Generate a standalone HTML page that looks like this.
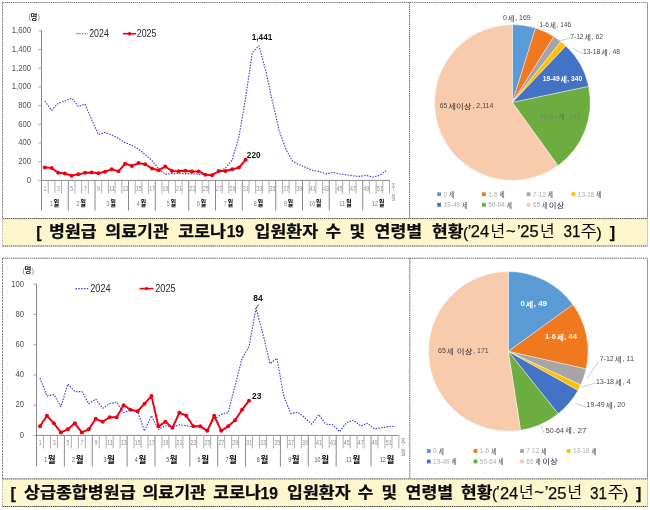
<!DOCTYPE html>
<html lang="ko"><head><meta charset="utf-8"><title>COVID-19 hospitalisations</title>
<style>html,body{margin:0;padding:0;background:#fff;}body{width:650px;height:510px;overflow:hidden;font-family:"Liberation Sans","Noto Sans CJK KR",sans-serif;}svg{display:block;will-change:transform;filter:blur(0.4px);}text{font-family:"Liberation Sans","Noto Sans CJK KR",sans-serif;}</style></head><body>
<svg width="650" height="510" viewBox="0 0 650 510" role="img" aria-label="COVID-19 inpatients by week (2024 vs 2025) and by age group, hospital-level and tertiary hospitals">
<desc>[ 병원급 의료기관 코로나19 입원환자 수 및 연령별 현황('24년~'25년 31주) ] / [ 상급종합병원급 의료기관 코로나19 입원환자 수 및 연령별 현황('24년~'25년 31주) ]</desc>
<line x1="2.50" y1="2.50" x2="647.50" y2="2.50" stroke="#808080" stroke-width="1" stroke-dasharray="1.4 0.7" />
<line x1="2.50" y1="2.50" x2="2.50" y2="246.00" stroke="#7c7c7c" stroke-width="1" stroke-dasharray="2 1" />
<line x1="647.50" y1="2.50" x2="647.50" y2="246.00" stroke="#9a9a9a" stroke-width="1" />
<line x1="409.60" y1="2.50" x2="409.60" y2="218.60" stroke="#505050" stroke-width="0.9" stroke-dasharray="1.4 0.7" />
<line x1="41.50" y1="30.40" x2="41.50" y2="180.90" stroke="#8a8a8a" stroke-width="1" />
<line x1="38.50" y1="180.40" x2="41.50" y2="180.40" stroke="#9a9a9a" stroke-width="0.9" />
<text x="26.64" y="182.70" font-size="8.6" fill="#505050" text-anchor="start" font-weight="normal" textLength="4.26" lengthAdjust="spacingAndGlyphs" >0</text>
<line x1="38.50" y1="161.71" x2="41.50" y2="161.71" stroke="#9a9a9a" stroke-width="0.9" />
<text x="18.13" y="164.01" font-size="8.6" fill="#505050" text-anchor="start" font-weight="normal" textLength="12.77" lengthAdjust="spacingAndGlyphs" >200</text>
<line x1="38.50" y1="143.03" x2="41.50" y2="143.03" stroke="#9a9a9a" stroke-width="0.9" />
<text x="18.13" y="145.32" font-size="8.6" fill="#505050" text-anchor="start" font-weight="normal" textLength="12.77" lengthAdjust="spacingAndGlyphs" >400</text>
<line x1="38.50" y1="124.34" x2="41.50" y2="124.34" stroke="#9a9a9a" stroke-width="0.9" />
<text x="18.13" y="126.63" font-size="8.6" fill="#505050" text-anchor="start" font-weight="normal" textLength="12.77" lengthAdjust="spacingAndGlyphs" >600</text>
<line x1="38.50" y1="105.65" x2="41.50" y2="105.65" stroke="#9a9a9a" stroke-width="0.9" />
<text x="18.13" y="107.95" font-size="8.6" fill="#505050" text-anchor="start" font-weight="normal" textLength="12.77" lengthAdjust="spacingAndGlyphs" >800</text>
<line x1="38.50" y1="86.96" x2="41.50" y2="86.96" stroke="#9a9a9a" stroke-width="0.9" />
<text x="11.75" y="89.26" font-size="8.6" fill="#505050" text-anchor="start" font-weight="normal" textLength="19.15" lengthAdjust="spacingAndGlyphs" >1,000</text>
<line x1="38.50" y1="68.28" x2="41.50" y2="68.28" stroke="#9a9a9a" stroke-width="0.9" />
<text x="11.75" y="70.57" font-size="8.6" fill="#505050" text-anchor="start" font-weight="normal" textLength="19.15" lengthAdjust="spacingAndGlyphs" >1,200</text>
<line x1="38.50" y1="49.59" x2="41.50" y2="49.59" stroke="#9a9a9a" stroke-width="0.9" />
<text x="11.75" y="51.88" font-size="8.6" fill="#505050" text-anchor="start" font-weight="normal" textLength="19.15" lengthAdjust="spacingAndGlyphs" >1,400</text>
<line x1="38.50" y1="30.90" x2="41.50" y2="30.90" stroke="#9a9a9a" stroke-width="0.9" />
<text x="11.75" y="33.20" font-size="8.6" fill="#505050" text-anchor="start" font-weight="normal" textLength="19.15" lengthAdjust="spacingAndGlyphs" >1,600</text>
<line x1="41.50" y1="180.40" x2="389.50" y2="180.40" stroke="#8a8a8a" stroke-width="1" />
<line x1="41.50" y1="180.40" x2="41.50" y2="210.60" stroke="#8a8a8a" stroke-width="1" />
<line x1="48.19" y1="180.40" x2="48.19" y2="193.60" stroke="#9a9a9a" stroke-width="0.8" />
<line x1="54.88" y1="180.40" x2="54.88" y2="193.60" stroke="#9a9a9a" stroke-width="0.8" />
<line x1="61.58" y1="180.40" x2="61.58" y2="193.60" stroke="#9a9a9a" stroke-width="0.8" />
<line x1="68.27" y1="180.40" x2="68.27" y2="210.60" stroke="#8a8a8a" stroke-width="1" />
<line x1="74.96" y1="180.40" x2="74.96" y2="193.60" stroke="#9a9a9a" stroke-width="0.8" />
<line x1="81.65" y1="180.40" x2="81.65" y2="193.60" stroke="#9a9a9a" stroke-width="0.8" />
<line x1="88.35" y1="180.40" x2="88.35" y2="193.60" stroke="#9a9a9a" stroke-width="0.8" />
<line x1="95.04" y1="180.40" x2="95.04" y2="210.60" stroke="#8a8a8a" stroke-width="1" />
<line x1="101.73" y1="180.40" x2="101.73" y2="193.60" stroke="#9a9a9a" stroke-width="0.8" />
<line x1="108.42" y1="180.40" x2="108.42" y2="193.60" stroke="#9a9a9a" stroke-width="0.8" />
<line x1="115.12" y1="180.40" x2="115.12" y2="193.60" stroke="#9a9a9a" stroke-width="0.8" />
<line x1="121.81" y1="180.40" x2="121.81" y2="193.60" stroke="#9a9a9a" stroke-width="0.8" />
<line x1="128.50" y1="180.40" x2="128.50" y2="210.60" stroke="#8a8a8a" stroke-width="1" />
<line x1="135.19" y1="180.40" x2="135.19" y2="193.60" stroke="#9a9a9a" stroke-width="0.8" />
<line x1="141.88" y1="180.40" x2="141.88" y2="193.60" stroke="#9a9a9a" stroke-width="0.8" />
<line x1="148.58" y1="180.40" x2="148.58" y2="193.60" stroke="#9a9a9a" stroke-width="0.8" />
<line x1="155.27" y1="180.40" x2="155.27" y2="210.60" stroke="#8a8a8a" stroke-width="1" />
<line x1="161.96" y1="180.40" x2="161.96" y2="193.60" stroke="#9a9a9a" stroke-width="0.8" />
<line x1="168.65" y1="180.40" x2="168.65" y2="193.60" stroke="#9a9a9a" stroke-width="0.8" />
<line x1="175.35" y1="180.40" x2="175.35" y2="193.60" stroke="#9a9a9a" stroke-width="0.8" />
<line x1="182.04" y1="180.40" x2="182.04" y2="193.60" stroke="#9a9a9a" stroke-width="0.8" />
<line x1="188.73" y1="180.40" x2="188.73" y2="210.60" stroke="#8a8a8a" stroke-width="1" />
<line x1="195.42" y1="180.40" x2="195.42" y2="193.60" stroke="#9a9a9a" stroke-width="0.8" />
<line x1="202.12" y1="180.40" x2="202.12" y2="193.60" stroke="#9a9a9a" stroke-width="0.8" />
<line x1="208.81" y1="180.40" x2="208.81" y2="193.60" stroke="#9a9a9a" stroke-width="0.8" />
<line x1="215.50" y1="180.40" x2="215.50" y2="210.60" stroke="#8a8a8a" stroke-width="1" />
<line x1="222.19" y1="180.40" x2="222.19" y2="193.60" stroke="#9a9a9a" stroke-width="0.8" />
<line x1="228.88" y1="180.40" x2="228.88" y2="193.60" stroke="#9a9a9a" stroke-width="0.8" />
<line x1="235.58" y1="180.40" x2="235.58" y2="193.60" stroke="#9a9a9a" stroke-width="0.8" />
<line x1="242.27" y1="180.40" x2="242.27" y2="210.60" stroke="#8a8a8a" stroke-width="1" />
<line x1="248.96" y1="180.40" x2="248.96" y2="193.60" stroke="#9a9a9a" stroke-width="0.8" />
<line x1="255.65" y1="180.40" x2="255.65" y2="193.60" stroke="#9a9a9a" stroke-width="0.8" />
<line x1="262.35" y1="180.40" x2="262.35" y2="193.60" stroke="#9a9a9a" stroke-width="0.8" />
<line x1="269.04" y1="180.40" x2="269.04" y2="193.60" stroke="#9a9a9a" stroke-width="0.8" />
<line x1="275.73" y1="180.40" x2="275.73" y2="210.60" stroke="#8a8a8a" stroke-width="1" />
<line x1="282.42" y1="180.40" x2="282.42" y2="193.60" stroke="#9a9a9a" stroke-width="0.8" />
<line x1="289.12" y1="180.40" x2="289.12" y2="193.60" stroke="#9a9a9a" stroke-width="0.8" />
<line x1="295.81" y1="180.40" x2="295.81" y2="193.60" stroke="#9a9a9a" stroke-width="0.8" />
<line x1="302.50" y1="180.40" x2="302.50" y2="210.60" stroke="#8a8a8a" stroke-width="1" />
<line x1="309.19" y1="180.40" x2="309.19" y2="193.60" stroke="#9a9a9a" stroke-width="0.8" />
<line x1="315.88" y1="180.40" x2="315.88" y2="193.60" stroke="#9a9a9a" stroke-width="0.8" />
<line x1="322.58" y1="180.40" x2="322.58" y2="193.60" stroke="#9a9a9a" stroke-width="0.8" />
<line x1="329.27" y1="180.40" x2="329.27" y2="210.60" stroke="#8a8a8a" stroke-width="1" />
<line x1="335.96" y1="180.40" x2="335.96" y2="193.60" stroke="#9a9a9a" stroke-width="0.8" />
<line x1="342.65" y1="180.40" x2="342.65" y2="193.60" stroke="#9a9a9a" stroke-width="0.8" />
<line x1="349.35" y1="180.40" x2="349.35" y2="193.60" stroke="#9a9a9a" stroke-width="0.8" />
<line x1="356.04" y1="180.40" x2="356.04" y2="193.60" stroke="#9a9a9a" stroke-width="0.8" />
<line x1="362.73" y1="180.40" x2="362.73" y2="210.60" stroke="#8a8a8a" stroke-width="1" />
<line x1="369.42" y1="180.40" x2="369.42" y2="193.60" stroke="#9a9a9a" stroke-width="0.8" />
<line x1="376.12" y1="180.40" x2="376.12" y2="193.60" stroke="#9a9a9a" stroke-width="0.8" />
<line x1="382.81" y1="180.40" x2="382.81" y2="193.60" stroke="#9a9a9a" stroke-width="0.8" />
<line x1="389.50" y1="180.40" x2="389.50" y2="193.60" stroke="#9a9a9a" stroke-width="0.8" />
<text x="45.05" y="190.60" font-size="7.4" fill="#8e8e8e" text-anchor="middle" font-weight="normal" textLength="2.96" lengthAdjust="spacingAndGlyphs" >1</text>
<text x="58.43" y="190.60" font-size="7.4" fill="#8e8e8e" text-anchor="middle" font-weight="normal" textLength="2.96" lengthAdjust="spacingAndGlyphs" >3</text>
<text x="71.82" y="190.60" font-size="7.4" fill="#8e8e8e" text-anchor="middle" font-weight="normal" textLength="2.96" lengthAdjust="spacingAndGlyphs" >5</text>
<text x="85.20" y="190.60" font-size="7.4" fill="#8e8e8e" text-anchor="middle" font-weight="normal" textLength="2.96" lengthAdjust="spacingAndGlyphs" >7</text>
<text x="98.58" y="190.60" font-size="7.4" fill="#8e8e8e" text-anchor="middle" font-weight="normal" textLength="2.96" lengthAdjust="spacingAndGlyphs" >9</text>
<text x="111.97" y="190.60" font-size="7.4" fill="#8e8e8e" text-anchor="middle" font-weight="normal" textLength="5.93" lengthAdjust="spacingAndGlyphs" >11</text>
<text x="125.35" y="190.60" font-size="7.4" fill="#8e8e8e" text-anchor="middle" font-weight="normal" textLength="5.93" lengthAdjust="spacingAndGlyphs" >13</text>
<text x="138.74" y="190.60" font-size="7.4" fill="#8e8e8e" text-anchor="middle" font-weight="normal" textLength="5.93" lengthAdjust="spacingAndGlyphs" >15</text>
<text x="152.12" y="190.60" font-size="7.4" fill="#8e8e8e" text-anchor="middle" font-weight="normal" textLength="5.93" lengthAdjust="spacingAndGlyphs" >17</text>
<text x="165.51" y="190.60" font-size="7.4" fill="#8e8e8e" text-anchor="middle" font-weight="normal" textLength="5.93" lengthAdjust="spacingAndGlyphs" >19</text>
<text x="178.89" y="190.60" font-size="7.4" fill="#8e8e8e" text-anchor="middle" font-weight="normal" textLength="5.93" lengthAdjust="spacingAndGlyphs" >21</text>
<text x="192.28" y="190.60" font-size="7.4" fill="#8e8e8e" text-anchor="middle" font-weight="normal" textLength="5.93" lengthAdjust="spacingAndGlyphs" >23</text>
<text x="205.66" y="190.60" font-size="7.4" fill="#8e8e8e" text-anchor="middle" font-weight="normal" textLength="5.93" lengthAdjust="spacingAndGlyphs" >25</text>
<text x="219.05" y="190.60" font-size="7.4" fill="#8e8e8e" text-anchor="middle" font-weight="normal" textLength="5.93" lengthAdjust="spacingAndGlyphs" >27</text>
<text x="232.43" y="190.60" font-size="7.4" fill="#8e8e8e" text-anchor="middle" font-weight="normal" textLength="5.93" lengthAdjust="spacingAndGlyphs" >29</text>
<text x="245.82" y="190.60" font-size="7.4" fill="#8e8e8e" text-anchor="middle" font-weight="normal" textLength="5.93" lengthAdjust="spacingAndGlyphs" >31</text>
<text x="259.20" y="190.60" font-size="7.4" fill="#8e8e8e" text-anchor="middle" font-weight="normal" textLength="5.93" lengthAdjust="spacingAndGlyphs" >33</text>
<text x="272.58" y="190.60" font-size="7.4" fill="#8e8e8e" text-anchor="middle" font-weight="normal" textLength="5.93" lengthAdjust="spacingAndGlyphs" >35</text>
<text x="285.97" y="190.60" font-size="7.4" fill="#8e8e8e" text-anchor="middle" font-weight="normal" textLength="5.93" lengthAdjust="spacingAndGlyphs" >37</text>
<text x="299.35" y="190.60" font-size="7.4" fill="#8e8e8e" text-anchor="middle" font-weight="normal" textLength="5.93" lengthAdjust="spacingAndGlyphs" >39</text>
<text x="312.74" y="190.60" font-size="7.4" fill="#8e8e8e" text-anchor="middle" font-weight="normal" textLength="5.93" lengthAdjust="spacingAndGlyphs" >41</text>
<text x="326.12" y="190.60" font-size="7.4" fill="#8e8e8e" text-anchor="middle" font-weight="normal" textLength="5.93" lengthAdjust="spacingAndGlyphs" >43</text>
<text x="339.51" y="190.60" font-size="7.4" fill="#8e8e8e" text-anchor="middle" font-weight="normal" textLength="5.93" lengthAdjust="spacingAndGlyphs" >45</text>
<text x="352.89" y="190.60" font-size="7.4" fill="#8e8e8e" text-anchor="middle" font-weight="normal" textLength="5.93" lengthAdjust="spacingAndGlyphs" >47</text>
<text x="366.28" y="190.60" font-size="7.4" fill="#8e8e8e" text-anchor="middle" font-weight="normal" textLength="5.93" lengthAdjust="spacingAndGlyphs" >49</text>
<text x="379.66" y="190.60" font-size="7.4" fill="#8e8e8e" text-anchor="middle" font-weight="normal" textLength="5.93" lengthAdjust="spacingAndGlyphs" >51</text>
<text x="49.67" y="205.60" font-size="7.8" fill="#777" text-anchor="start" font-weight="normal" textLength="2.95" lengthAdjust="spacingAndGlyphs" >1</text>
<text x="53.38" y="206.30" font-size="8" fill="#000" text-anchor="start" font-weight="bold" textLength="5.6" lengthAdjust="spacingAndGlyphs">월</text>
<text x="76.44" y="205.60" font-size="7.8" fill="#777" text-anchor="start" font-weight="normal" textLength="2.95" lengthAdjust="spacingAndGlyphs" >2</text>
<text x="80.15" y="206.30" font-size="8" fill="#000" text-anchor="start" font-weight="bold" textLength="5.6" lengthAdjust="spacingAndGlyphs">월</text>
<text x="106.55" y="205.60" font-size="7.8" fill="#777" text-anchor="start" font-weight="normal" textLength="2.95" lengthAdjust="spacingAndGlyphs" >3</text>
<text x="110.26" y="206.30" font-size="8" fill="#000" text-anchor="start" font-weight="bold" textLength="5.6" lengthAdjust="spacingAndGlyphs">월</text>
<text x="136.67" y="205.60" font-size="7.8" fill="#777" text-anchor="start" font-weight="normal" textLength="2.95" lengthAdjust="spacingAndGlyphs" >4</text>
<text x="140.38" y="206.30" font-size="8" fill="#000" text-anchor="start" font-weight="bold" textLength="5.6" lengthAdjust="spacingAndGlyphs">월</text>
<text x="166.78" y="205.60" font-size="7.8" fill="#777" text-anchor="start" font-weight="normal" textLength="2.95" lengthAdjust="spacingAndGlyphs" >5</text>
<text x="170.49" y="206.30" font-size="8" fill="#000" text-anchor="start" font-weight="bold" textLength="5.6" lengthAdjust="spacingAndGlyphs">월</text>
<text x="196.90" y="205.60" font-size="7.8" fill="#777" text-anchor="start" font-weight="normal" textLength="2.95" lengthAdjust="spacingAndGlyphs" >6</text>
<text x="200.61" y="206.30" font-size="8" fill="#000" text-anchor="start" font-weight="bold" textLength="5.6" lengthAdjust="spacingAndGlyphs">월</text>
<text x="223.67" y="205.60" font-size="7.8" fill="#777" text-anchor="start" font-weight="normal" textLength="2.95" lengthAdjust="spacingAndGlyphs" >7</text>
<text x="227.38" y="206.30" font-size="8" fill="#000" text-anchor="start" font-weight="bold" textLength="5.6" lengthAdjust="spacingAndGlyphs">월</text>
<text x="253.78" y="205.60" font-size="7.8" fill="#777" text-anchor="start" font-weight="normal" textLength="2.95" lengthAdjust="spacingAndGlyphs" >8</text>
<text x="257.49" y="206.30" font-size="8" fill="#000" text-anchor="start" font-weight="bold" textLength="5.6" lengthAdjust="spacingAndGlyphs">월</text>
<text x="283.90" y="205.60" font-size="7.8" fill="#777" text-anchor="start" font-weight="normal" textLength="2.95" lengthAdjust="spacingAndGlyphs" >9</text>
<text x="287.61" y="206.30" font-size="8" fill="#000" text-anchor="start" font-weight="bold" textLength="5.6" lengthAdjust="spacingAndGlyphs">월</text>
<text x="309.19" y="205.60" font-size="7.8" fill="#777" text-anchor="start" font-weight="normal" textLength="5.90" lengthAdjust="spacingAndGlyphs" >10</text>
<text x="315.85" y="206.30" font-size="8" fill="#000" text-anchor="start" font-weight="bold" textLength="5.6" lengthAdjust="spacingAndGlyphs">월</text>
<text x="339.31" y="205.60" font-size="7.8" fill="#777" text-anchor="start" font-weight="normal" textLength="5.90" lengthAdjust="spacingAndGlyphs" >11</text>
<text x="345.97" y="206.30" font-size="8" fill="#000" text-anchor="start" font-weight="bold" textLength="5.6" lengthAdjust="spacingAndGlyphs">월</text>
<text x="372.02" y="205.60" font-size="7.8" fill="#777" text-anchor="start" font-weight="normal" textLength="5.90" lengthAdjust="spacingAndGlyphs" >12</text>
<text x="378.68" y="206.30" font-size="8" fill="#000" text-anchor="start" font-weight="bold" textLength="5.6" lengthAdjust="spacingAndGlyphs">월</text>
<text x="391.30" y="189.70" font-size="7.5" fill="#8a8a8a" text-anchor="start" font-weight="normal" textLength="4" lengthAdjust="spacingAndGlyphs">주</text>
<text x="391.42" y="200.20" font-size="6.8" fill="#8a8a8a" text-anchor="start" font-weight="normal" textLength="4" lengthAdjust="spacingAndGlyphs">월</text>
<polyline points="44.85,101.07 51.54,110.32 58.23,103.22 64.92,101.07 71.62,98.17 78.31,106.40 85.00,104.16 91.69,119.67 98.38,134.62 105.08,132.37 111.77,134.99 118.46,138.35 125.15,142.65 131.85,145.45 138.54,149.19 145.23,154.52 151.92,160.50 158.62,168.53 165.31,174.33 172.00,173.67 178.69,173.49 185.38,173.67 192.08,173.67 198.77,174.51 205.46,174.51 212.15,174.33 218.85,171.43 225.54,168.07 232.23,159.84 238.92,136.76 245.62,97.89 252.31,52.58 259.00,45.76 265.69,70.42 272.38,101.17 279.08,130.22 285.77,149.10 292.46,161.06 299.15,164.80 305.85,167.41 312.54,170.40 319.23,171.43 325.92,173.86 332.62,172.46 339.31,173.86 346.00,174.79 352.69,175.82 359.38,176.38 366.08,175.45 372.77,177.04 379.46,175.45 386.15,170.78" fill="none" stroke="#3d42d4" stroke-width="1.15" stroke-dasharray="1.5 1.3" stroke-linejoin="round"/>
<polyline points="44.85,167.51 51.54,167.88 58.23,172.83 64.92,173.49 71.62,175.63 78.31,174.33 85.00,172.83 91.69,172.46 98.38,173.30 105.08,171.80 111.77,169.19 118.46,171.34 125.15,163.77 131.85,165.92 138.54,163.11 145.23,164.24 151.92,168.53 158.62,170.22 165.31,166.57 172.00,171.06 178.69,171.15 185.38,170.68 192.08,171.43 198.77,171.43 205.46,174.79 212.15,175.17 218.85,170.96 225.54,171.06 232.23,169.28 238.92,167.60 245.62,159.84" fill="none" stroke="#ee0010" stroke-width="1.95" stroke-linejoin="round" stroke-linecap="round"/>
<circle cx="44.85" cy="167.51" r="2.0" fill="#ee0010"/>
<circle cx="51.54" cy="167.88" r="2.0" fill="#ee0010"/>
<circle cx="58.23" cy="172.83" r="2.0" fill="#ee0010"/>
<circle cx="64.92" cy="173.49" r="2.0" fill="#ee0010"/>
<circle cx="71.62" cy="175.63" r="2.0" fill="#ee0010"/>
<circle cx="78.31" cy="174.33" r="2.0" fill="#ee0010"/>
<circle cx="85.00" cy="172.83" r="2.0" fill="#ee0010"/>
<circle cx="91.69" cy="172.46" r="2.0" fill="#ee0010"/>
<circle cx="98.38" cy="173.30" r="2.0" fill="#ee0010"/>
<circle cx="105.08" cy="171.80" r="2.0" fill="#ee0010"/>
<circle cx="111.77" cy="169.19" r="2.0" fill="#ee0010"/>
<circle cx="118.46" cy="171.34" r="2.0" fill="#ee0010"/>
<circle cx="125.15" cy="163.77" r="2.0" fill="#ee0010"/>
<circle cx="131.85" cy="165.92" r="2.0" fill="#ee0010"/>
<circle cx="138.54" cy="163.11" r="2.0" fill="#ee0010"/>
<circle cx="145.23" cy="164.24" r="2.0" fill="#ee0010"/>
<circle cx="151.92" cy="168.53" r="2.0" fill="#ee0010"/>
<circle cx="158.62" cy="170.22" r="2.0" fill="#ee0010"/>
<circle cx="165.31" cy="166.57" r="2.0" fill="#ee0010"/>
<circle cx="172.00" cy="171.06" r="2.0" fill="#ee0010"/>
<circle cx="178.69" cy="171.15" r="2.0" fill="#ee0010"/>
<circle cx="185.38" cy="170.68" r="2.0" fill="#ee0010"/>
<circle cx="192.08" cy="171.43" r="2.0" fill="#ee0010"/>
<circle cx="198.77" cy="171.43" r="2.0" fill="#ee0010"/>
<circle cx="205.46" cy="174.79" r="2.0" fill="#ee0010"/>
<circle cx="212.15" cy="175.17" r="2.0" fill="#ee0010"/>
<circle cx="218.85" cy="170.96" r="2.0" fill="#ee0010"/>
<circle cx="225.54" cy="171.06" r="2.0" fill="#ee0010"/>
<circle cx="232.23" cy="169.28" r="2.0" fill="#ee0010"/>
<circle cx="238.92" cy="167.60" r="2.0" fill="#ee0010"/>
<circle cx="245.62" cy="159.84" r="2.0" fill="#ee0010"/>
<line x1="76.30" y1="33.70" x2="88.00" y2="33.70" stroke="#3d42d4" stroke-width="1.15" stroke-dasharray="1.5 1.3" />
<text x="89.20" y="37.30" font-size="10.4" fill="#2a2a2a" text-anchor="start" font-weight="normal" textLength="19.60" lengthAdjust="spacingAndGlyphs" >2024</text>
<line x1="123.00" y1="33.70" x2="136.00" y2="33.70" stroke="#ee0010" stroke-width="1.6" />
<circle cx="129.50" cy="33.70" r="1.7" fill="#ee0010"/>
<text x="136.80" y="37.30" font-size="10.4" fill="#2a2a2a" text-anchor="start" font-weight="normal" textLength="19.60" lengthAdjust="spacingAndGlyphs" >2025</text>
<text x="28.60" y="19.30" font-size="7.5" fill="#777" text-anchor="start" font-weight="normal" >(</text>
<text x="30.62" y="19.60" font-size="7.5" fill="#222" text-anchor="start" font-weight="bold" textLength="6.9" lengthAdjust="spacingAndGlyphs">명</text>
<text x="37.50" y="19.30" font-size="7.5" fill="#777" text-anchor="start" font-weight="normal" >)</text>
<text x="251.70" y="40.40" font-size="9.4" fill="#111" text-anchor="start" font-weight="bold" textLength="20.60" lengthAdjust="spacingAndGlyphs" >1,441</text>
<text x="246.80" y="157.60" font-size="9.4" fill="#111" text-anchor="start" font-weight="bold" textLength="13.80" lengthAdjust="spacingAndGlyphs" >220</text>
<path d="M512.40 102.50 L512.40 24.60 A77.90 77.90 0 0 1 535.51 28.11 Z" fill="#5B9BD5" stroke="#fff" stroke-width="0.4" stroke-linejoin="round"/>
<path d="M512.40 102.50 L535.51 28.11 A77.90 77.90 0 0 1 553.87 36.55 Z" fill="#F0791F" stroke="#fff" stroke-width="0.4" stroke-linejoin="round"/>
<path d="M512.40 102.50 L553.87 36.55 A77.90 77.90 0 0 1 560.88 41.53 Z" fill="#A5A5A5" stroke="#fff" stroke-width="0.4" stroke-linejoin="round"/>
<path d="M512.40 102.50 L560.88 41.53 A77.90 77.90 0 0 1 565.92 45.89 Z" fill="#FFC000" stroke="#fff" stroke-width="0.4" stroke-linejoin="round"/>
<path d="M512.40 102.50 L565.92 45.89 A77.90 77.90 0 0 1 588.63 86.44 Z" fill="#4472C4" stroke="#fff" stroke-width="0.4" stroke-linejoin="round"/>
<path d="M512.40 102.50 L588.63 86.44 A77.90 77.90 0 0 1 558.01 165.65 Z" fill="#6DAD40" stroke="#fff" stroke-width="0.4" stroke-linejoin="round"/>
<path d="M512.40 102.50 L558.01 165.65 A77.90 77.90 0 1 1 512.40 24.60 Z" fill="#F8CBAD" stroke="#fff" stroke-width="0.4" stroke-linejoin="round"/>
<line x1="569.60" y1="38.00" x2="559.00" y2="41.20" stroke="#aeb6c6" stroke-width="0.7" />
<line x1="582.80" y1="53.60" x2="572.50" y2="48.20" stroke="#aeb6c6" stroke-width="0.7" />
<text x="503.00" y="19.85" font-size="6.8" fill="#4a4a4a" text-anchor="start" font-weight="normal" textLength="3.84" lengthAdjust="spacingAndGlyphs" >0</text>
<text x="507.76" y="20.55" font-size="7" fill="#2c2c2c" text-anchor="start" font-weight="normal" textLength="6.6" lengthAdjust="spacingAndGlyphs">세</text>
<text x="515.26" y="19.85" font-size="6.8" fill="#4a4a4a" text-anchor="start" font-weight="normal" textLength="15.34" lengthAdjust="spacingAndGlyphs" >, 169</text>
<text x="539.40" y="27.05" font-size="6.8" fill="#4a4a4a" text-anchor="start" font-weight="normal" textLength="9.40" lengthAdjust="spacingAndGlyphs" >1-6</text>
<text x="549.67" y="27.75" font-size="7" fill="#2c2c2c" text-anchor="start" font-weight="normal" textLength="6.2" lengthAdjust="spacingAndGlyphs">세</text>
<text x="556.74" y="27.05" font-size="6.8" fill="#4a4a4a" text-anchor="start" font-weight="normal" textLength="14.46" lengthAdjust="spacingAndGlyphs" >, 146</text>
<text x="570.20" y="39.05" font-size="6.8" fill="#4a4a4a" text-anchor="start" font-weight="normal" textLength="13.42" lengthAdjust="spacingAndGlyphs" >7-12</text>
<text x="584.53" y="39.75" font-size="7" fill="#2c2c2c" text-anchor="start" font-weight="normal" textLength="6.4" lengthAdjust="spacingAndGlyphs">세</text>
<text x="591.81" y="39.05" font-size="6.8" fill="#4a4a4a" text-anchor="start" font-weight="normal" textLength="11.19" lengthAdjust="spacingAndGlyphs" >, 62</text>
<text x="583.00" y="54.45" font-size="6.8" fill="#4a4a4a" text-anchor="start" font-weight="normal" textLength="17.38" lengthAdjust="spacingAndGlyphs" >13-18</text>
<text x="601.29" y="55.15" font-size="7" fill="#2c2c2c" text-anchor="start" font-weight="normal" textLength="6.5" lengthAdjust="spacingAndGlyphs">세</text>
<text x="608.67" y="54.45" font-size="6.8" fill="#4a4a4a" text-anchor="start" font-weight="normal" textLength="11.33" lengthAdjust="spacingAndGlyphs" >, 48</text>
<text x="542.70" y="81.25" font-size="6.8" fill="#fff" text-anchor="start" font-weight="bold" textLength="17.12" lengthAdjust="spacingAndGlyphs" >19-49</text>
<text x="560.55" y="81.95" font-size="7" fill="#fff" text-anchor="start" font-weight="bold" textLength="6.4" lengthAdjust="spacingAndGlyphs">세</text>
<text x="567.31" y="81.25" font-size="6.8" fill="#fff" text-anchor="start" font-weight="bold" textLength="14.89" lengthAdjust="spacingAndGlyphs" >, 340</text>
<text x="540.00" y="118.75" font-size="6.8" fill="#6c8f56" text-anchor="start" font-weight="normal" textLength="17.26" lengthAdjust="spacingAndGlyphs" >50-64</text>
<text x="558.16" y="119.45" font-size="7" fill="#55773f" text-anchor="start" font-weight="normal" textLength="6.5" lengthAdjust="spacingAndGlyphs">세</text>
<text x="565.49" y="118.75" font-size="6.8" fill="#6c8f56" text-anchor="start" font-weight="normal" textLength="15.01" lengthAdjust="spacingAndGlyphs" >, 647</text>
<text x="439.80" y="108.45" font-size="6.8" fill="#4a4a4a" text-anchor="start" font-weight="normal" textLength="7.60" lengthAdjust="spacingAndGlyphs" >65</text>
<text x="448.32" y="109.15" font-size="7" fill="#2c2c2c" text-anchor="start" font-weight="normal" textLength="23.2" lengthAdjust="spacingAndGlyphs">세이상</text>
<text x="472.41" y="108.45" font-size="6.8" fill="#4a4a4a" text-anchor="start" font-weight="normal" textLength="20.89" lengthAdjust="spacingAndGlyphs" >, 2,114</text>
<rect x="437.20" y="192.30" width="3.8" height="3.8" fill="#5B9BD5"/>
<text x="443.40" y="196.50" font-size="6.6" fill="#adadad" text-anchor="start" font-weight="normal" textLength="3.60" lengthAdjust="spacingAndGlyphs" >0</text>
<text x="448.97" y="197.10" font-size="7" fill="#1c1c3c" text-anchor="start" font-weight="normal" textLength="5.1" lengthAdjust="spacingAndGlyphs">세</text>
<rect x="482.00" y="192.30" width="3.8" height="3.8" fill="#F0791F"/>
<text x="488.20" y="196.50" font-size="6.6" fill="#adadad" text-anchor="start" font-weight="normal" textLength="9.35" lengthAdjust="spacingAndGlyphs" >1-6</text>
<text x="499.53" y="197.10" font-size="7" fill="#1c1c3c" text-anchor="start" font-weight="normal" textLength="5.1" lengthAdjust="spacingAndGlyphs">세</text>
<rect x="526.70" y="192.30" width="3.8" height="3.8" fill="#A5A5A5"/>
<text x="532.90" y="196.50" font-size="6.6" fill="#adadad" text-anchor="start" font-weight="normal" textLength="12.95" lengthAdjust="spacingAndGlyphs" >7-12</text>
<text x="547.82" y="197.10" font-size="7" fill="#1c1c3c" text-anchor="start" font-weight="normal" textLength="5.1" lengthAdjust="spacingAndGlyphs">세</text>
<rect x="571.60" y="192.30" width="3.8" height="3.8" fill="#FFC000"/>
<text x="577.80" y="196.50" font-size="6.6" fill="#adadad" text-anchor="start" font-weight="normal" textLength="16.54" lengthAdjust="spacingAndGlyphs" >13-18</text>
<text x="596.32" y="197.10" font-size="7" fill="#1c1c3c" text-anchor="start" font-weight="normal" textLength="5.1" lengthAdjust="spacingAndGlyphs">세</text>
<rect x="437.20" y="202.90" width="3.8" height="3.8" fill="#4472C4"/>
<text x="443.40" y="207.10" font-size="6.6" fill="#adadad" text-anchor="start" font-weight="normal" textLength="16.54" lengthAdjust="spacingAndGlyphs" >19-49</text>
<text x="461.92" y="207.70" font-size="7" fill="#1c1c3c" text-anchor="start" font-weight="normal" textLength="5.1" lengthAdjust="spacingAndGlyphs">세</text>
<rect x="482.00" y="202.90" width="3.8" height="3.8" fill="#6DAD40"/>
<text x="488.20" y="207.10" font-size="6.6" fill="#adadad" text-anchor="start" font-weight="normal" textLength="16.54" lengthAdjust="spacingAndGlyphs" >50-64</text>
<text x="506.72" y="207.70" font-size="7" fill="#1c1c3c" text-anchor="start" font-weight="normal" textLength="5.1" lengthAdjust="spacingAndGlyphs">세</text>
<rect x="526.70" y="202.90" width="3.8" height="3.8" fill="#F8CBAD"/>
<text x="532.90" y="207.10" font-size="6.6" fill="#adadad" text-anchor="start" font-weight="normal" textLength="7.19" lengthAdjust="spacingAndGlyphs" >65</text>
<text x="542.07" y="207.70" font-size="7" fill="#1c1c3c" text-anchor="start" font-weight="normal" textLength="5.1" lengthAdjust="spacingAndGlyphs">세</text>
<text x="548.84" y="207.70" font-size="7.4" fill="#2a2a4a" text-anchor="start" font-weight="normal" textLength="15.6" lengthAdjust="spacingAndGlyphs">이상</text>
<rect x="2.50" y="218.60" width="645.00" height="27.40" fill="#FEF7CE"/>
<line x1="2.50" y1="218.60" x2="647.50" y2="218.60" stroke="#4a4a4a" stroke-width="1" stroke-dasharray="1.5 0.6" />
<line x1="2.50" y1="246.00" x2="647.50" y2="246.00" stroke="#4a4a4a" stroke-width="1" stroke-dasharray="1.5 0.6" />
<text x="49.05" y="236.50" font-size="15.5" fill="#0a0a0a" text-anchor="start" font-weight="bold" textLength="47.5" lengthAdjust="spacingAndGlyphs" stroke="#0a0a0a" stroke-width="0.25">병원급</text>
<text x="105.29" y="236.50" font-size="15.5" fill="#0a0a0a" text-anchor="start" font-weight="bold" textLength="63.5" lengthAdjust="spacingAndGlyphs" stroke="#0a0a0a" stroke-width="0.25">의료기관</text>
<text x="178.37" y="236.50" font-size="15.5" fill="#0a0a0a" text-anchor="start" font-weight="bold" textLength="47.5" lengthAdjust="spacingAndGlyphs" stroke="#0a0a0a" stroke-width="0.25">코로나</text>
<text x="254.54" y="236.50" font-size="15.5" fill="#0a0a0a" text-anchor="start" font-weight="bold" textLength="63.5" lengthAdjust="spacingAndGlyphs" stroke="#0a0a0a" stroke-width="0.25">입원환자</text>
<text x="325.45" y="236.50" font-size="15.5" fill="#0a0a0a" text-anchor="start" font-weight="bold" textLength="15.5" lengthAdjust="spacingAndGlyphs" stroke="#0a0a0a" stroke-width="0.25">수</text>
<text x="349.61" y="236.50" font-size="15.5" fill="#0a0a0a" text-anchor="start" font-weight="bold" textLength="15.5" lengthAdjust="spacingAndGlyphs" stroke="#0a0a0a" stroke-width="0.25">및</text>
<text x="374.58" y="236.50" font-size="15.5" fill="#0a0a0a" text-anchor="start" font-weight="bold" textLength="47.5" lengthAdjust="spacingAndGlyphs" stroke="#0a0a0a" stroke-width="0.25">연령별</text>
<text x="432.02" y="236.50" font-size="15.5" fill="#0a0a0a" text-anchor="start" font-weight="bold" textLength="31.5" lengthAdjust="spacingAndGlyphs" stroke="#0a0a0a" stroke-width="0.25">현황</text>
<text x="490.52" y="236.65" font-size="15.5" fill="#0a0a0a" text-anchor="start" font-weight="normal" textLength="14.6" lengthAdjust="spacingAndGlyphs">년</text>
<text x="539.92" y="236.65" font-size="15.5" fill="#0a0a0a" text-anchor="start" font-weight="normal" textLength="14.6" lengthAdjust="spacingAndGlyphs">년</text>
<text x="580.41" y="236.65" font-size="15.5" fill="#0a0a0a" text-anchor="start" font-weight="normal" textLength="16.4" lengthAdjust="spacingAndGlyphs">주</text>
<text x="36.20" y="238.00" font-size="16" fill="#0a0a0a" text-anchor="start" font-weight="bold" stroke="#0a0a0a" stroke-width="0.25">[</text>
<text x="226.70" y="237.40" font-size="15.6" fill="#0a0a0a" text-anchor="start" font-weight="bold" stroke="#0a0a0a" stroke-width="0.25">19</text>
<text x="463.10" y="237.50" font-size="15.5" fill="#0a0a0a" text-anchor="start" font-weight="normal" stroke="#0a0a0a" stroke-width="0.25">(</text>
<text x="467.80" y="236.50" font-size="16.5" fill="#0a0a0a" text-anchor="start" font-weight="normal" stroke="#0a0a0a" stroke-width="0.25">’</text>
<text x="470.80" y="237.40" font-size="16.5" fill="#0a0a0a" text-anchor="start" font-weight="normal" stroke="#0a0a0a" stroke-width="0.25">24</text>
<text x="506.00" y="236.50" font-size="16.5" fill="#0a0a0a" text-anchor="start" font-weight="normal" stroke="#0a0a0a" stroke-width="0.25">~</text>
<text x="517.10" y="236.50" font-size="16.5" fill="#0a0a0a" text-anchor="start" font-weight="normal" stroke="#0a0a0a" stroke-width="0.25">’</text>
<text x="520.30" y="237.40" font-size="16.5" fill="#0a0a0a" text-anchor="start" font-weight="normal" stroke="#0a0a0a" stroke-width="0.25">25</text>
<text x="563.40" y="237.40" font-size="16.5" fill="#0a0a0a" text-anchor="start" font-weight="normal" textLength="17.00" lengthAdjust="spacingAndGlyphs" stroke="#0a0a0a" stroke-width="0.25">31</text>
<text x="596.60" y="237.50" font-size="15.5" fill="#0a0a0a" text-anchor="start" font-weight="normal" stroke="#0a0a0a" stroke-width="0.25">)</text>
<text x="609.70" y="238.00" font-size="16" fill="#0a0a0a" text-anchor="start" font-weight="bold" stroke="#0a0a0a" stroke-width="0.25">]</text>
<line x1="2.50" y1="258.20" x2="647.50" y2="258.20" stroke="#5e5e5e" stroke-width="1" stroke-dasharray="1.4 0.7" />
<line x1="2.50" y1="258.20" x2="2.50" y2="506.50" stroke="#7c7c7c" stroke-width="1" stroke-dasharray="2 1" />
<line x1="647.50" y1="258.20" x2="647.50" y2="506.50" stroke="#9a9a9a" stroke-width="1" />
<line x1="409.80" y1="258.20" x2="409.80" y2="478.90" stroke="#505050" stroke-width="0.9" stroke-dasharray="1.4 0.7" />
<line x1="36.50" y1="283.80" x2="36.50" y2="435.90" stroke="#8a8a8a" stroke-width="1" />
<line x1="33.50" y1="435.40" x2="36.50" y2="435.40" stroke="#9a9a9a" stroke-width="0.9" />
<text x="19.84" y="437.70" font-size="8.6" fill="#505050" text-anchor="start" font-weight="normal" textLength="4.26" lengthAdjust="spacingAndGlyphs" >0</text>
<line x1="33.50" y1="405.18" x2="36.50" y2="405.18" stroke="#9a9a9a" stroke-width="0.9" />
<text x="15.59" y="407.48" font-size="8.6" fill="#505050" text-anchor="start" font-weight="normal" textLength="8.51" lengthAdjust="spacingAndGlyphs" >20</text>
<line x1="33.50" y1="374.96" x2="36.50" y2="374.96" stroke="#9a9a9a" stroke-width="0.9" />
<text x="15.59" y="377.26" font-size="8.6" fill="#505050" text-anchor="start" font-weight="normal" textLength="8.51" lengthAdjust="spacingAndGlyphs" >40</text>
<line x1="33.50" y1="344.74" x2="36.50" y2="344.74" stroke="#9a9a9a" stroke-width="0.9" />
<text x="15.59" y="347.04" font-size="8.6" fill="#505050" text-anchor="start" font-weight="normal" textLength="8.51" lengthAdjust="spacingAndGlyphs" >60</text>
<line x1="33.50" y1="314.52" x2="36.50" y2="314.52" stroke="#9a9a9a" stroke-width="0.9" />
<text x="15.59" y="316.82" font-size="8.6" fill="#505050" text-anchor="start" font-weight="normal" textLength="8.51" lengthAdjust="spacingAndGlyphs" >80</text>
<line x1="33.50" y1="284.30" x2="36.50" y2="284.30" stroke="#9a9a9a" stroke-width="0.9" />
<text x="11.33" y="286.60" font-size="8.6" fill="#505050" text-anchor="start" font-weight="normal" textLength="12.77" lengthAdjust="spacingAndGlyphs" >100</text>
<line x1="36.50" y1="435.40" x2="398.90" y2="435.40" stroke="#8a8a8a" stroke-width="1" />
<line x1="36.50" y1="435.40" x2="36.50" y2="466.60" stroke="#8a8a8a" stroke-width="1" />
<line x1="43.47" y1="435.40" x2="43.47" y2="448.40" stroke="#9a9a9a" stroke-width="0.8" />
<line x1="50.44" y1="435.40" x2="50.44" y2="448.40" stroke="#9a9a9a" stroke-width="0.8" />
<line x1="57.41" y1="435.40" x2="57.41" y2="448.40" stroke="#9a9a9a" stroke-width="0.8" />
<line x1="64.38" y1="435.40" x2="64.38" y2="466.60" stroke="#8a8a8a" stroke-width="1" />
<line x1="71.35" y1="435.40" x2="71.35" y2="448.40" stroke="#9a9a9a" stroke-width="0.8" />
<line x1="78.32" y1="435.40" x2="78.32" y2="448.40" stroke="#9a9a9a" stroke-width="0.8" />
<line x1="85.28" y1="435.40" x2="85.28" y2="448.40" stroke="#9a9a9a" stroke-width="0.8" />
<line x1="92.25" y1="435.40" x2="92.25" y2="466.60" stroke="#8a8a8a" stroke-width="1" />
<line x1="99.22" y1="435.40" x2="99.22" y2="448.40" stroke="#9a9a9a" stroke-width="0.8" />
<line x1="106.19" y1="435.40" x2="106.19" y2="448.40" stroke="#9a9a9a" stroke-width="0.8" />
<line x1="113.16" y1="435.40" x2="113.16" y2="448.40" stroke="#9a9a9a" stroke-width="0.8" />
<line x1="120.13" y1="435.40" x2="120.13" y2="448.40" stroke="#9a9a9a" stroke-width="0.8" />
<line x1="127.10" y1="435.40" x2="127.10" y2="466.60" stroke="#8a8a8a" stroke-width="1" />
<line x1="134.07" y1="435.40" x2="134.07" y2="448.40" stroke="#9a9a9a" stroke-width="0.8" />
<line x1="141.04" y1="435.40" x2="141.04" y2="448.40" stroke="#9a9a9a" stroke-width="0.8" />
<line x1="148.01" y1="435.40" x2="148.01" y2="448.40" stroke="#9a9a9a" stroke-width="0.8" />
<line x1="154.98" y1="435.40" x2="154.98" y2="466.60" stroke="#8a8a8a" stroke-width="1" />
<line x1="161.95" y1="435.40" x2="161.95" y2="448.40" stroke="#9a9a9a" stroke-width="0.8" />
<line x1="168.92" y1="435.40" x2="168.92" y2="448.40" stroke="#9a9a9a" stroke-width="0.8" />
<line x1="175.88" y1="435.40" x2="175.88" y2="448.40" stroke="#9a9a9a" stroke-width="0.8" />
<line x1="182.85" y1="435.40" x2="182.85" y2="448.40" stroke="#9a9a9a" stroke-width="0.8" />
<line x1="189.82" y1="435.40" x2="189.82" y2="466.60" stroke="#8a8a8a" stroke-width="1" />
<line x1="196.79" y1="435.40" x2="196.79" y2="448.40" stroke="#9a9a9a" stroke-width="0.8" />
<line x1="203.76" y1="435.40" x2="203.76" y2="448.40" stroke="#9a9a9a" stroke-width="0.8" />
<line x1="210.73" y1="435.40" x2="210.73" y2="448.40" stroke="#9a9a9a" stroke-width="0.8" />
<line x1="217.70" y1="435.40" x2="217.70" y2="466.60" stroke="#8a8a8a" stroke-width="1" />
<line x1="224.67" y1="435.40" x2="224.67" y2="448.40" stroke="#9a9a9a" stroke-width="0.8" />
<line x1="231.64" y1="435.40" x2="231.64" y2="448.40" stroke="#9a9a9a" stroke-width="0.8" />
<line x1="238.61" y1="435.40" x2="238.61" y2="448.40" stroke="#9a9a9a" stroke-width="0.8" />
<line x1="245.58" y1="435.40" x2="245.58" y2="466.60" stroke="#8a8a8a" stroke-width="1" />
<line x1="252.55" y1="435.40" x2="252.55" y2="448.40" stroke="#9a9a9a" stroke-width="0.8" />
<line x1="259.52" y1="435.40" x2="259.52" y2="448.40" stroke="#9a9a9a" stroke-width="0.8" />
<line x1="266.48" y1="435.40" x2="266.48" y2="448.40" stroke="#9a9a9a" stroke-width="0.8" />
<line x1="273.45" y1="435.40" x2="273.45" y2="448.40" stroke="#9a9a9a" stroke-width="0.8" />
<line x1="280.42" y1="435.40" x2="280.42" y2="466.60" stroke="#8a8a8a" stroke-width="1" />
<line x1="287.39" y1="435.40" x2="287.39" y2="448.40" stroke="#9a9a9a" stroke-width="0.8" />
<line x1="294.36" y1="435.40" x2="294.36" y2="448.40" stroke="#9a9a9a" stroke-width="0.8" />
<line x1="301.33" y1="435.40" x2="301.33" y2="448.40" stroke="#9a9a9a" stroke-width="0.8" />
<line x1="308.30" y1="435.40" x2="308.30" y2="466.60" stroke="#8a8a8a" stroke-width="1" />
<line x1="315.27" y1="435.40" x2="315.27" y2="448.40" stroke="#9a9a9a" stroke-width="0.8" />
<line x1="322.24" y1="435.40" x2="322.24" y2="448.40" stroke="#9a9a9a" stroke-width="0.8" />
<line x1="329.21" y1="435.40" x2="329.21" y2="448.40" stroke="#9a9a9a" stroke-width="0.8" />
<line x1="336.18" y1="435.40" x2="336.18" y2="466.60" stroke="#8a8a8a" stroke-width="1" />
<line x1="343.15" y1="435.40" x2="343.15" y2="448.40" stroke="#9a9a9a" stroke-width="0.8" />
<line x1="350.12" y1="435.40" x2="350.12" y2="448.40" stroke="#9a9a9a" stroke-width="0.8" />
<line x1="357.08" y1="435.40" x2="357.08" y2="448.40" stroke="#9a9a9a" stroke-width="0.8" />
<line x1="364.05" y1="435.40" x2="364.05" y2="448.40" stroke="#9a9a9a" stroke-width="0.8" />
<line x1="371.02" y1="435.40" x2="371.02" y2="466.60" stroke="#8a8a8a" stroke-width="1" />
<line x1="377.99" y1="435.40" x2="377.99" y2="448.40" stroke="#9a9a9a" stroke-width="0.8" />
<line x1="384.96" y1="435.40" x2="384.96" y2="448.40" stroke="#9a9a9a" stroke-width="0.8" />
<line x1="391.93" y1="435.40" x2="391.93" y2="448.40" stroke="#9a9a9a" stroke-width="0.8" />
<line x1="398.90" y1="435.40" x2="398.90" y2="448.40" stroke="#9a9a9a" stroke-width="0.8" />
<text x="40.18" y="445.20" font-size="7.4" fill="#8e8e8e" text-anchor="middle" font-weight="normal" textLength="2.96" lengthAdjust="spacingAndGlyphs" >1</text>
<text x="54.12" y="445.20" font-size="7.4" fill="#8e8e8e" text-anchor="middle" font-weight="normal" textLength="2.96" lengthAdjust="spacingAndGlyphs" >3</text>
<text x="68.06" y="445.20" font-size="7.4" fill="#8e8e8e" text-anchor="middle" font-weight="normal" textLength="2.96" lengthAdjust="spacingAndGlyphs" >5</text>
<text x="82.00" y="445.20" font-size="7.4" fill="#8e8e8e" text-anchor="middle" font-weight="normal" textLength="2.96" lengthAdjust="spacingAndGlyphs" >7</text>
<text x="95.94" y="445.20" font-size="7.4" fill="#8e8e8e" text-anchor="middle" font-weight="normal" textLength="2.96" lengthAdjust="spacingAndGlyphs" >9</text>
<text x="109.88" y="445.20" font-size="7.4" fill="#8e8e8e" text-anchor="middle" font-weight="normal" textLength="5.93" lengthAdjust="spacingAndGlyphs" >11</text>
<text x="123.82" y="445.20" font-size="7.4" fill="#8e8e8e" text-anchor="middle" font-weight="normal" textLength="5.93" lengthAdjust="spacingAndGlyphs" >13</text>
<text x="137.75" y="445.20" font-size="7.4" fill="#8e8e8e" text-anchor="middle" font-weight="normal" textLength="5.93" lengthAdjust="spacingAndGlyphs" >15</text>
<text x="151.69" y="445.20" font-size="7.4" fill="#8e8e8e" text-anchor="middle" font-weight="normal" textLength="5.93" lengthAdjust="spacingAndGlyphs" >17</text>
<text x="165.63" y="445.20" font-size="7.4" fill="#8e8e8e" text-anchor="middle" font-weight="normal" textLength="5.93" lengthAdjust="spacingAndGlyphs" >19</text>
<text x="179.57" y="445.20" font-size="7.4" fill="#8e8e8e" text-anchor="middle" font-weight="normal" textLength="5.93" lengthAdjust="spacingAndGlyphs" >21</text>
<text x="193.51" y="445.20" font-size="7.4" fill="#8e8e8e" text-anchor="middle" font-weight="normal" textLength="5.93" lengthAdjust="spacingAndGlyphs" >23</text>
<text x="207.45" y="445.20" font-size="7.4" fill="#8e8e8e" text-anchor="middle" font-weight="normal" textLength="5.93" lengthAdjust="spacingAndGlyphs" >25</text>
<text x="221.38" y="445.20" font-size="7.4" fill="#8e8e8e" text-anchor="middle" font-weight="normal" textLength="5.93" lengthAdjust="spacingAndGlyphs" >27</text>
<text x="235.32" y="445.20" font-size="7.4" fill="#8e8e8e" text-anchor="middle" font-weight="normal" textLength="5.93" lengthAdjust="spacingAndGlyphs" >29</text>
<text x="249.26" y="445.20" font-size="7.4" fill="#8e8e8e" text-anchor="middle" font-weight="normal" textLength="5.93" lengthAdjust="spacingAndGlyphs" >31</text>
<text x="263.20" y="445.20" font-size="7.4" fill="#8e8e8e" text-anchor="middle" font-weight="normal" textLength="5.93" lengthAdjust="spacingAndGlyphs" >33</text>
<text x="277.14" y="445.20" font-size="7.4" fill="#8e8e8e" text-anchor="middle" font-weight="normal" textLength="5.93" lengthAdjust="spacingAndGlyphs" >35</text>
<text x="291.08" y="445.20" font-size="7.4" fill="#8e8e8e" text-anchor="middle" font-weight="normal" textLength="5.93" lengthAdjust="spacingAndGlyphs" >37</text>
<text x="305.02" y="445.20" font-size="7.4" fill="#8e8e8e" text-anchor="middle" font-weight="normal" textLength="5.93" lengthAdjust="spacingAndGlyphs" >39</text>
<text x="318.95" y="445.20" font-size="7.4" fill="#8e8e8e" text-anchor="middle" font-weight="normal" textLength="5.93" lengthAdjust="spacingAndGlyphs" >41</text>
<text x="332.89" y="445.20" font-size="7.4" fill="#8e8e8e" text-anchor="middle" font-weight="normal" textLength="5.93" lengthAdjust="spacingAndGlyphs" >43</text>
<text x="346.83" y="445.20" font-size="7.4" fill="#8e8e8e" text-anchor="middle" font-weight="normal" textLength="5.93" lengthAdjust="spacingAndGlyphs" >45</text>
<text x="360.77" y="445.20" font-size="7.4" fill="#8e8e8e" text-anchor="middle" font-weight="normal" textLength="5.93" lengthAdjust="spacingAndGlyphs" >47</text>
<text x="374.71" y="445.20" font-size="7.4" fill="#8e8e8e" text-anchor="middle" font-weight="normal" textLength="5.93" lengthAdjust="spacingAndGlyphs" >49</text>
<text x="388.65" y="445.20" font-size="7.4" fill="#8e8e8e" text-anchor="middle" font-weight="normal" textLength="5.93" lengthAdjust="spacingAndGlyphs" >51</text>
<text x="44.25" y="462.20" font-size="7.8" fill="#555" text-anchor="start" font-weight="normal" textLength="2.95" lengthAdjust="spacingAndGlyphs" >1</text>
<text x="47.86" y="462.90" font-size="8.6" fill="#000" text-anchor="start" font-weight="bold" textLength="7.8" lengthAdjust="spacingAndGlyphs">월</text>
<text x="72.12" y="462.20" font-size="7.8" fill="#555" text-anchor="start" font-weight="normal" textLength="2.95" lengthAdjust="spacingAndGlyphs" >2</text>
<text x="75.73" y="462.90" font-size="8.6" fill="#000" text-anchor="start" font-weight="bold" textLength="7.8" lengthAdjust="spacingAndGlyphs">월</text>
<text x="103.49" y="462.20" font-size="7.8" fill="#555" text-anchor="start" font-weight="normal" textLength="2.95" lengthAdjust="spacingAndGlyphs" >3</text>
<text x="107.10" y="462.90" font-size="8.6" fill="#000" text-anchor="start" font-weight="bold" textLength="7.8" lengthAdjust="spacingAndGlyphs">월</text>
<text x="134.85" y="462.20" font-size="7.8" fill="#555" text-anchor="start" font-weight="normal" textLength="2.95" lengthAdjust="spacingAndGlyphs" >4</text>
<text x="138.46" y="462.90" font-size="8.6" fill="#000" text-anchor="start" font-weight="bold" textLength="7.8" lengthAdjust="spacingAndGlyphs">월</text>
<text x="166.21" y="462.20" font-size="7.8" fill="#555" text-anchor="start" font-weight="normal" textLength="2.95" lengthAdjust="spacingAndGlyphs" >5</text>
<text x="169.82" y="462.90" font-size="8.6" fill="#000" text-anchor="start" font-weight="bold" textLength="7.8" lengthAdjust="spacingAndGlyphs">월</text>
<text x="197.57" y="462.20" font-size="7.8" fill="#555" text-anchor="start" font-weight="normal" textLength="2.95" lengthAdjust="spacingAndGlyphs" >6</text>
<text x="201.18" y="462.90" font-size="8.6" fill="#000" text-anchor="start" font-weight="bold" textLength="7.8" lengthAdjust="spacingAndGlyphs">월</text>
<text x="225.45" y="462.20" font-size="7.8" fill="#555" text-anchor="start" font-weight="normal" textLength="2.95" lengthAdjust="spacingAndGlyphs" >7</text>
<text x="229.06" y="462.90" font-size="8.6" fill="#000" text-anchor="start" font-weight="bold" textLength="7.8" lengthAdjust="spacingAndGlyphs">월</text>
<text x="256.81" y="462.20" font-size="7.8" fill="#555" text-anchor="start" font-weight="normal" textLength="2.95" lengthAdjust="spacingAndGlyphs" >8</text>
<text x="260.42" y="462.90" font-size="8.6" fill="#000" text-anchor="start" font-weight="bold" textLength="7.8" lengthAdjust="spacingAndGlyphs">월</text>
<text x="288.17" y="462.20" font-size="7.8" fill="#555" text-anchor="start" font-weight="normal" textLength="2.95" lengthAdjust="spacingAndGlyphs" >9</text>
<text x="291.78" y="462.90" font-size="8.6" fill="#000" text-anchor="start" font-weight="bold" textLength="7.8" lengthAdjust="spacingAndGlyphs">월</text>
<text x="314.57" y="462.20" font-size="7.8" fill="#555" text-anchor="start" font-weight="normal" textLength="5.90" lengthAdjust="spacingAndGlyphs" >10</text>
<text x="321.13" y="462.90" font-size="8.6" fill="#000" text-anchor="start" font-weight="bold" textLength="7.8" lengthAdjust="spacingAndGlyphs">월</text>
<text x="345.93" y="462.20" font-size="7.8" fill="#555" text-anchor="start" font-weight="normal" textLength="5.90" lengthAdjust="spacingAndGlyphs" >11</text>
<text x="352.49" y="462.90" font-size="8.6" fill="#000" text-anchor="start" font-weight="bold" textLength="7.8" lengthAdjust="spacingAndGlyphs">월</text>
<text x="379.90" y="462.20" font-size="7.8" fill="#555" text-anchor="start" font-weight="normal" textLength="5.90" lengthAdjust="spacingAndGlyphs" >12</text>
<text x="386.46" y="462.90" font-size="8.6" fill="#000" text-anchor="start" font-weight="bold" textLength="7.8" lengthAdjust="spacingAndGlyphs">월</text>
<text x="400.65" y="444.70" font-size="7.5" fill="#8a8a8a" text-anchor="start" font-weight="normal" textLength="5" lengthAdjust="spacingAndGlyphs">주</text>
<text x="400.75" y="455.20" font-size="6.8" fill="#8a8a8a" text-anchor="start" font-weight="normal" textLength="5" lengthAdjust="spacingAndGlyphs">월</text>
<polyline points="39.98,377.98 46.95,396.11 53.92,394.60 60.89,406.69 67.86,384.03 74.83,391.58 81.80,391.58 88.77,403.67 95.74,399.14 102.71,408.20 109.68,403.67 116.65,402.16 123.62,412.73 130.58,409.71 137.55,411.22 144.52,430.87 151.49,415.76 158.46,429.36 165.43,425.73 172.40,427.24 179.37,424.82 186.34,425.73 193.31,426.79 200.28,426.33 207.25,429.81 214.22,419.53 221.18,414.40 228.15,412.73 235.12,385.54 242.09,358.34 249.06,346.55 256.03,308.48 263.00,334.16 269.97,363.63 276.94,358.34 283.91,396.72 290.88,413.49 297.85,412.28 304.82,417.72 311.78,424.22 318.75,414.55 325.72,424.22 332.69,424.82 339.66,431.62 346.63,422.56 353.60,420.29 360.57,425.88 367.54,423.31 374.51,429.05 381.48,427.84 388.45,426.49 395.42,426.49" fill="none" stroke="#3d42d4" stroke-width="1.15" stroke-dasharray="1.5 1.3" stroke-linejoin="round"/>
<polyline points="39.98,426.33 46.95,415.76 53.92,423.31 60.89,432.38 67.86,429.36 74.83,423.31 81.80,432.38 88.77,429.36 95.74,418.78 102.71,421.80 109.68,417.27 116.65,417.27 123.62,405.18 130.58,409.71 137.55,411.22 144.52,403.67 151.49,396.11 158.46,426.33 165.43,421.80 172.40,427.84 179.37,412.73 186.34,415.76 193.31,426.33 200.28,426.33 207.25,430.87 214.22,415.76 221.18,430.87 228.15,426.33 235.12,420.29 242.09,409.71 249.06,400.65" fill="none" stroke="#ee0010" stroke-width="1.95" stroke-linejoin="round" stroke-linecap="round"/>
<circle cx="39.98" cy="426.33" r="2.0" fill="#ee0010"/>
<circle cx="46.95" cy="415.76" r="2.0" fill="#ee0010"/>
<circle cx="53.92" cy="423.31" r="2.0" fill="#ee0010"/>
<circle cx="60.89" cy="432.38" r="2.0" fill="#ee0010"/>
<circle cx="67.86" cy="429.36" r="2.0" fill="#ee0010"/>
<circle cx="74.83" cy="423.31" r="2.0" fill="#ee0010"/>
<circle cx="81.80" cy="432.38" r="2.0" fill="#ee0010"/>
<circle cx="88.77" cy="429.36" r="2.0" fill="#ee0010"/>
<circle cx="95.74" cy="418.78" r="2.0" fill="#ee0010"/>
<circle cx="102.71" cy="421.80" r="2.0" fill="#ee0010"/>
<circle cx="109.68" cy="417.27" r="2.0" fill="#ee0010"/>
<circle cx="116.65" cy="417.27" r="2.0" fill="#ee0010"/>
<circle cx="123.62" cy="405.18" r="2.0" fill="#ee0010"/>
<circle cx="130.58" cy="409.71" r="2.0" fill="#ee0010"/>
<circle cx="137.55" cy="411.22" r="2.0" fill="#ee0010"/>
<circle cx="144.52" cy="403.67" r="2.0" fill="#ee0010"/>
<circle cx="151.49" cy="396.11" r="2.0" fill="#ee0010"/>
<circle cx="158.46" cy="426.33" r="2.0" fill="#ee0010"/>
<circle cx="165.43" cy="421.80" r="2.0" fill="#ee0010"/>
<circle cx="172.40" cy="427.84" r="2.0" fill="#ee0010"/>
<circle cx="179.37" cy="412.73" r="2.0" fill="#ee0010"/>
<circle cx="186.34" cy="415.76" r="2.0" fill="#ee0010"/>
<circle cx="193.31" cy="426.33" r="2.0" fill="#ee0010"/>
<circle cx="200.28" cy="426.33" r="2.0" fill="#ee0010"/>
<circle cx="207.25" cy="430.87" r="2.0" fill="#ee0010"/>
<circle cx="214.22" cy="415.76" r="2.0" fill="#ee0010"/>
<circle cx="221.18" cy="430.87" r="2.0" fill="#ee0010"/>
<circle cx="228.15" cy="426.33" r="2.0" fill="#ee0010"/>
<circle cx="235.12" cy="420.29" r="2.0" fill="#ee0010"/>
<circle cx="242.09" cy="409.71" r="2.0" fill="#ee0010"/>
<circle cx="249.06" cy="400.65" r="2.0" fill="#ee0010"/>
<line x1="75.50" y1="288.60" x2="88.70" y2="288.60" stroke="#3d42d4" stroke-width="1.15" stroke-dasharray="1.5 1.3" />
<text x="90.20" y="292.20" font-size="10.4" fill="#2a2a2a" text-anchor="start" font-weight="normal" textLength="20.40" lengthAdjust="spacingAndGlyphs" >2024</text>
<line x1="139.60" y1="288.60" x2="153.40" y2="288.60" stroke="#ee0010" stroke-width="1.6" />
<circle cx="146.50" cy="288.60" r="1.7" fill="#ee0010"/>
<text x="155.20" y="292.20" font-size="10.4" fill="#2a2a2a" text-anchor="start" font-weight="normal" textLength="20.40" lengthAdjust="spacingAndGlyphs" >2025</text>
<text x="22.60" y="273.00" font-size="7.5" fill="#777" text-anchor="start" font-weight="normal" >(</text>
<text x="24.62" y="273.30" font-size="7.5" fill="#222" text-anchor="start" font-weight="bold" textLength="6.9" lengthAdjust="spacingAndGlyphs">명</text>
<text x="31.50" y="273.00" font-size="7.5" fill="#777" text-anchor="start" font-weight="normal" >)</text>
<line x1="258.60" y1="304.40" x2="255.30" y2="309.20" stroke="#333" stroke-width="0.8" />
<text x="253.30" y="300.60" font-size="9.4" fill="#111" text-anchor="start" font-weight="bold" textLength="9.40" lengthAdjust="spacingAndGlyphs" >84</text>
<text x="252.00" y="399.20" font-size="9.4" fill="#111" text-anchor="start" font-weight="bold" textLength="9.40" lengthAdjust="spacingAndGlyphs" >23</text>
<path d="M508.30 351.40 L508.30 271.60 A79.80 79.80 0 0 1 572.95 304.62 Z" fill="#5B9BD5" stroke="#fff" stroke-width="0.4" stroke-linejoin="round"/>
<path d="M508.30 351.40 L572.95 304.62 A79.80 79.80 0 0 1 586.15 368.94 Z" fill="#F0791F" stroke="#fff" stroke-width="0.4" stroke-linejoin="round"/>
<path d="M508.30 351.40 L586.15 368.94 A79.80 79.80 0 0 1 580.71 384.93 Z" fill="#A5A5A5" stroke="#fff" stroke-width="0.4" stroke-linejoin="round"/>
<path d="M508.30 351.40 L580.71 384.93 A79.80 79.80 0 0 1 577.92 390.41 Z" fill="#FFC000" stroke="#fff" stroke-width="0.4" stroke-linejoin="round"/>
<path d="M508.30 351.40 L577.92 390.41 A79.80 79.80 0 0 1 558.14 413.72 Z" fill="#4472C4" stroke="#fff" stroke-width="0.4" stroke-linejoin="round"/>
<path d="M508.30 351.40 L558.14 413.72 A79.80 79.80 0 0 1 520.56 430.25 Z" fill="#6DAD40" stroke="#fff" stroke-width="0.4" stroke-linejoin="round"/>
<path d="M508.30 351.40 L520.56 430.25 A79.80 79.80 0 1 1 508.30 271.60 Z" fill="#F8CBAD" stroke="#fff" stroke-width="0.4" stroke-linejoin="round"/>
<line x1="598.80" y1="360.90" x2="587.20" y2="378.30" stroke="#aeb6c6" stroke-width="0.7" />
<line x1="595.30" y1="383.00" x2="581.50" y2="387.20" stroke="#aeb6c6" stroke-width="0.7" />
<line x1="586.00" y1="407.00" x2="575.50" y2="403.60" stroke="#aeb6c6" stroke-width="0.7" />
<line x1="543.90" y1="432.80" x2="540.90" y2="425.60" stroke="#aeb6c6" stroke-width="0.7" />
<text x="520.50" y="306.45" font-size="6.8" fill="#fff" text-anchor="start" font-weight="bold" textLength="4.41" lengthAdjust="spacingAndGlyphs" >0</text>
<text x="525.77" y="307.15" font-size="7.4" fill="#fff" text-anchor="start" font-weight="bold" textLength="7.5" lengthAdjust="spacingAndGlyphs">세</text>
<text x="533.77" y="306.45" font-size="6.8" fill="#fff" text-anchor="start" font-weight="bold" textLength="13.23" lengthAdjust="spacingAndGlyphs" >, 49</text>
<text x="545.00" y="339.45" font-size="6.8" fill="#fff" text-anchor="start" font-weight="bold" textLength="10.93" lengthAdjust="spacingAndGlyphs" >1-6</text>
<text x="556.75" y="340.15" font-size="7.4" fill="#fff" text-anchor="start" font-weight="bold" textLength="7.2" lengthAdjust="spacingAndGlyphs">세</text>
<text x="564.38" y="339.45" font-size="6.8" fill="#fff" text-anchor="start" font-weight="bold" textLength="12.62" lengthAdjust="spacingAndGlyphs" >, 44</text>
<text x="599.70" y="361.25" font-size="6.8" fill="#4a4a4a" text-anchor="start" font-weight="normal" textLength="14.04" lengthAdjust="spacingAndGlyphs" >7-12</text>
<text x="614.68" y="361.95" font-size="7" fill="#2c2c2c" text-anchor="start" font-weight="normal" textLength="6.7" lengthAdjust="spacingAndGlyphs">세</text>
<text x="622.30" y="361.25" font-size="6.8" fill="#4a4a4a" text-anchor="start" font-weight="normal" textLength="11.70" lengthAdjust="spacingAndGlyphs" >, 11</text>
<text x="595.90" y="383.95" font-size="6.8" fill="#4a4a4a" text-anchor="start" font-weight="normal" textLength="18.15" lengthAdjust="spacingAndGlyphs" >13-18</text>
<text x="615.00" y="384.65" font-size="7" fill="#2c2c2c" text-anchor="start" font-weight="normal" textLength="6.8" lengthAdjust="spacingAndGlyphs">세</text>
<text x="622.71" y="383.95" font-size="6.8" fill="#4a4a4a" text-anchor="start" font-weight="normal" textLength="7.89" lengthAdjust="spacingAndGlyphs" >, 4</text>
<text x="586.50" y="407.45" font-size="6.8" fill="#4a4a4a" text-anchor="start" font-weight="normal" textLength="18.22" lengthAdjust="spacingAndGlyphs" >19-49</text>
<text x="605.68" y="408.15" font-size="7" fill="#2c2c2c" text-anchor="start" font-weight="normal" textLength="6.8" lengthAdjust="spacingAndGlyphs">세</text>
<text x="613.42" y="407.45" font-size="6.8" fill="#4a4a4a" text-anchor="start" font-weight="normal" textLength="11.88" lengthAdjust="spacingAndGlyphs" >, 20</text>
<text x="545.70" y="432.65" font-size="6.8" fill="#4a4a4a" text-anchor="start" font-weight="normal" textLength="18.32" lengthAdjust="spacingAndGlyphs" >50-64</text>
<text x="564.98" y="433.35" font-size="7" fill="#2c2c2c" text-anchor="start" font-weight="normal" textLength="6.9" lengthAdjust="spacingAndGlyphs">세</text>
<text x="572.76" y="432.65" font-size="6.8" fill="#4a4a4a" text-anchor="start" font-weight="normal" textLength="13.94" lengthAdjust="spacingAndGlyphs" > , 27</text>
<text x="438.00" y="353.45" font-size="6.8" fill="#4a4a4a" text-anchor="start" font-weight="normal" textLength="7.83" lengthAdjust="spacingAndGlyphs" >65</text>
<text x="446.77" y="354.15" font-size="7" fill="#2c2c2c" text-anchor="start" font-weight="normal" textLength="6.8" lengthAdjust="spacingAndGlyphs">세</text>
<text x="456.88" y="354.15" font-size="7" fill="#2c2c2c" text-anchor="start" font-weight="normal" textLength="15.6" lengthAdjust="spacingAndGlyphs">이상</text>
<text x="473.15" y="353.45" font-size="6.8" fill="#4a4a4a" text-anchor="start" font-weight="normal" textLength="15.65" lengthAdjust="spacingAndGlyphs" >, 171</text>
<rect x="426.90" y="449.10" width="3.8" height="3.8" fill="#5B9BD5"/>
<text x="433.10" y="453.30" font-size="6.6" fill="#adadad" text-anchor="start" font-weight="normal" textLength="3.60" lengthAdjust="spacingAndGlyphs" >0</text>
<text x="438.67" y="453.90" font-size="7" fill="#1c1c3c" text-anchor="start" font-weight="normal" textLength="5.1" lengthAdjust="spacingAndGlyphs">세</text>
<rect x="473.60" y="449.10" width="3.8" height="3.8" fill="#F0791F"/>
<text x="479.80" y="453.30" font-size="6.6" fill="#adadad" text-anchor="start" font-weight="normal" textLength="9.35" lengthAdjust="spacingAndGlyphs" >1-6</text>
<text x="491.13" y="453.90" font-size="7" fill="#1c1c3c" text-anchor="start" font-weight="normal" textLength="5.1" lengthAdjust="spacingAndGlyphs">세</text>
<rect x="520.10" y="449.10" width="3.8" height="3.8" fill="#A5A5A5"/>
<text x="526.30" y="453.30" font-size="6.6" fill="#adadad" text-anchor="start" font-weight="normal" textLength="12.95" lengthAdjust="spacingAndGlyphs" >7-12</text>
<text x="541.22" y="453.90" font-size="7" fill="#1c1c3c" text-anchor="start" font-weight="normal" textLength="5.1" lengthAdjust="spacingAndGlyphs">세</text>
<rect x="566.70" y="449.10" width="3.8" height="3.8" fill="#FFC000"/>
<text x="572.90" y="453.30" font-size="6.6" fill="#adadad" text-anchor="start" font-weight="normal" textLength="16.54" lengthAdjust="spacingAndGlyphs" >13-18</text>
<text x="591.42" y="453.90" font-size="7" fill="#1c1c3c" text-anchor="start" font-weight="normal" textLength="5.1" lengthAdjust="spacingAndGlyphs">세</text>
<rect x="426.90" y="459.60" width="3.8" height="3.8" fill="#4472C4"/>
<text x="433.10" y="463.80" font-size="6.6" fill="#adadad" text-anchor="start" font-weight="normal" textLength="16.54" lengthAdjust="spacingAndGlyphs" >19-49</text>
<text x="451.62" y="464.40" font-size="7" fill="#1c1c3c" text-anchor="start" font-weight="normal" textLength="5.1" lengthAdjust="spacingAndGlyphs">세</text>
<rect x="473.60" y="459.60" width="3.8" height="3.8" fill="#6DAD40"/>
<text x="479.80" y="463.80" font-size="6.6" fill="#adadad" text-anchor="start" font-weight="normal" textLength="16.54" lengthAdjust="spacingAndGlyphs" >50-64</text>
<text x="498.32" y="464.40" font-size="7" fill="#1c1c3c" text-anchor="start" font-weight="normal" textLength="5.1" lengthAdjust="spacingAndGlyphs">세</text>
<rect x="520.10" y="459.60" width="3.8" height="3.8" fill="#F8CBAD"/>
<text x="526.30" y="463.80" font-size="6.6" fill="#adadad" text-anchor="start" font-weight="normal" textLength="7.19" lengthAdjust="spacingAndGlyphs" >65</text>
<text x="535.47" y="464.40" font-size="7" fill="#1c1c3c" text-anchor="start" font-weight="normal" textLength="5.1" lengthAdjust="spacingAndGlyphs">세</text>
<text x="542.24" y="464.40" font-size="7.4" fill="#2a2a4a" text-anchor="start" font-weight="normal" textLength="15.6" lengthAdjust="spacingAndGlyphs">이상</text>
<rect x="2.50" y="478.90" width="645.00" height="27.60" fill="#FEF7CE"/>
<line x1="2.50" y1="478.90" x2="647.50" y2="478.90" stroke="#4a4a4a" stroke-width="1" stroke-dasharray="1.5 0.6" />
<line x1="2.50" y1="506.50" x2="647.50" y2="506.50" stroke="#4a4a4a" stroke-width="1" stroke-dasharray="1.5 0.6" />
<text x="24.09" y="497.90" font-size="15.5" fill="#0a0a0a" text-anchor="start" font-weight="bold" textLength="111.5" lengthAdjust="spacingAndGlyphs" stroke="#0a0a0a" stroke-width="0.25">상급종합병원급</text>
<text x="142.49" y="497.90" font-size="15.5" fill="#0a0a0a" text-anchor="start" font-weight="bold" textLength="63.5" lengthAdjust="spacingAndGlyphs" stroke="#0a0a0a" stroke-width="0.25">의료기관</text>
<text x="213.37" y="497.90" font-size="15.5" fill="#0a0a0a" text-anchor="start" font-weight="bold" textLength="47.5" lengthAdjust="spacingAndGlyphs" stroke="#0a0a0a" stroke-width="0.25">코로나</text>
<text x="287.14" y="497.90" font-size="15.5" fill="#0a0a0a" text-anchor="start" font-weight="bold" textLength="63.5" lengthAdjust="spacingAndGlyphs" stroke="#0a0a0a" stroke-width="0.25">입원환자</text>
<text x="357.75" y="497.90" font-size="15.5" fill="#0a0a0a" text-anchor="start" font-weight="bold" textLength="15.5" lengthAdjust="spacingAndGlyphs" stroke="#0a0a0a" stroke-width="0.25">수</text>
<text x="381.61" y="497.90" font-size="15.5" fill="#0a0a0a" text-anchor="start" font-weight="bold" textLength="15.5" lengthAdjust="spacingAndGlyphs" stroke="#0a0a0a" stroke-width="0.25">및</text>
<text x="405.58" y="497.90" font-size="15.5" fill="#0a0a0a" text-anchor="start" font-weight="bold" textLength="47.5" lengthAdjust="spacingAndGlyphs" stroke="#0a0a0a" stroke-width="0.25">연령별</text>
<text x="461.12" y="497.90" font-size="15.5" fill="#0a0a0a" text-anchor="start" font-weight="bold" textLength="31.5" lengthAdjust="spacingAndGlyphs" stroke="#0a0a0a" stroke-width="0.25">현황</text>
<text x="519.02" y="498.05" font-size="15.5" fill="#0a0a0a" text-anchor="start" font-weight="normal" textLength="14.6" lengthAdjust="spacingAndGlyphs">년</text>
<text x="567.62" y="498.05" font-size="15.5" fill="#0a0a0a" text-anchor="start" font-weight="normal" textLength="14.6" lengthAdjust="spacingAndGlyphs">년</text>
<text x="607.51" y="498.05" font-size="15.5" fill="#0a0a0a" text-anchor="start" font-weight="normal" textLength="16.4" lengthAdjust="spacingAndGlyphs">주</text>
<text x="10.60" y="499.40" font-size="16" fill="#0a0a0a" text-anchor="start" font-weight="bold" stroke="#0a0a0a" stroke-width="0.25">[</text>
<text x="260.60" y="498.80" font-size="15.6" fill="#0a0a0a" text-anchor="start" font-weight="bold" stroke="#0a0a0a" stroke-width="0.25">19</text>
<text x="491.90" y="498.90" font-size="15.5" fill="#0a0a0a" text-anchor="start" font-weight="normal" stroke="#0a0a0a" stroke-width="0.25">(</text>
<text x="496.00" y="497.90" font-size="16.5" fill="#0a0a0a" text-anchor="start" font-weight="normal" stroke="#0a0a0a" stroke-width="0.25">’</text>
<text x="499.90" y="498.80" font-size="16.5" fill="#0a0a0a" text-anchor="start" font-weight="normal" stroke="#0a0a0a" stroke-width="0.25">24</text>
<text x="534.20" y="497.90" font-size="16.5" fill="#0a0a0a" text-anchor="start" font-weight="normal" stroke="#0a0a0a" stroke-width="0.25">~</text>
<text x="544.70" y="497.90" font-size="16.5" fill="#0a0a0a" text-anchor="start" font-weight="normal" stroke="#0a0a0a" stroke-width="0.25">’</text>
<text x="548.00" y="498.80" font-size="16.5" fill="#0a0a0a" text-anchor="start" font-weight="normal" stroke="#0a0a0a" stroke-width="0.25">25</text>
<text x="589.90" y="498.80" font-size="16.5" fill="#0a0a0a" text-anchor="start" font-weight="normal" textLength="17.00" lengthAdjust="spacingAndGlyphs" stroke="#0a0a0a" stroke-width="0.25">31</text>
<text x="623.00" y="498.90" font-size="15.5" fill="#0a0a0a" text-anchor="start" font-weight="normal" stroke="#0a0a0a" stroke-width="0.25">)</text>
<text x="635.90" y="499.40" font-size="16" fill="#0a0a0a" text-anchor="start" font-weight="bold" stroke="#0a0a0a" stroke-width="0.25">]</text>
</svg></body></html>
